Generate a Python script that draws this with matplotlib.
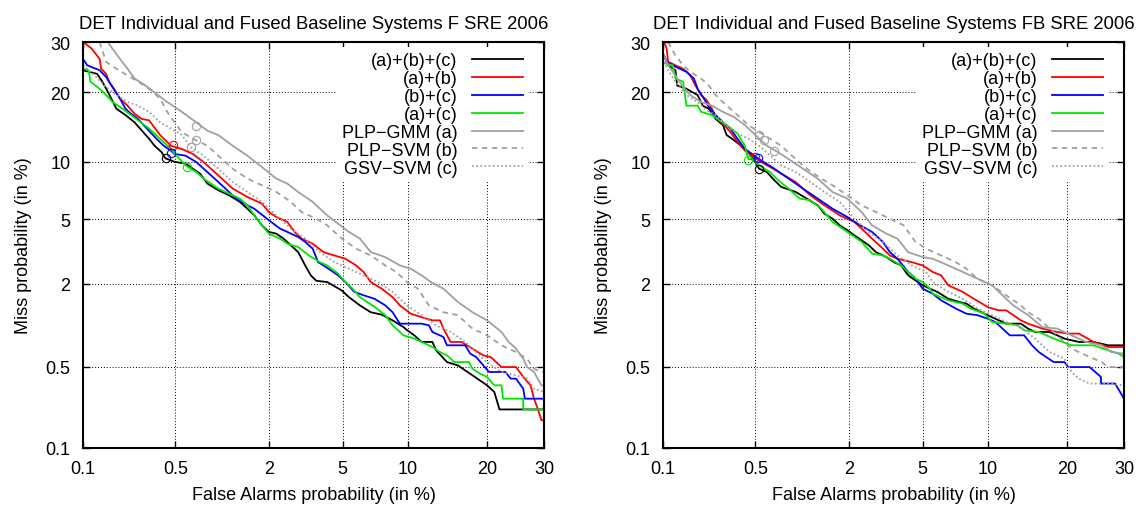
import math
import numpy as np
import matplotlib
matplotlib.use("Agg")
import matplotlib.pyplot as plt

plt.rcParams['font.family'] = ['Liberation Sans', 'DejaVu Sans']

TICKS = [0.1, 0.5, 2, 5, 10, 20, 30]
TICK_LABELS = ['0.1', '0.5', '2', '5', '10', '20', '30']
LABELS = ['(a)+(b)+(c)', '(a)+(b)', '(b)+(c)', '(a)+(c)',
          'PLP\u2212GMM (a)', 'PLP\u2212SVM (b)', 'GSV\u2212SVM (c)']
TITLES = ['DET Individual and Fused Baseline Systems F SRE 2006',
          'DET Individual and Fused Baseline Systems FB SRE 2006']

# (false alarm %, miss %) pairs
# ---- panel F ----
f_abc = [(0.10, 24.1), (0.13, 23.4), (0.143, 21.9), (0.161, 19.7), (0.184, 17.2), (0.216, 16.2),
         (0.253, 15.1), (0.287, 13.9), (0.324, 12.8), (0.355, 11.9), (0.40, 11.1), (0.424, 10.4),
         (0.493, 10.0), (0.587, 9.8), (0.658, 9.26), (0.737, 8.75), (0.824, 7.8), (0.97, 7.2),
         (1.14, 6.77), (1.33, 6.24), (1.48, 5.73), (1.63, 5.26), (1.81, 4.62), (1.99, 4.23),
         (2.2, 4.13), (2.42, 3.86), (2.66, 3.52), (2.92, 3.2), (3.19, 2.64), (3.42, 2.28),
         (3.66, 2.1), (4.17, 2.06), (4.95, 1.81), (5.37, 1.63), (6.07, 1.43), (6.83, 1.28),
         (7.67, 1.23), (8.58, 1.12), (9.57, 1.0), (9.91, 0.95), (10.63, 0.87), (11.39, 0.776),
         (12.6, 0.776), (13.03, 0.67), (14.36, 0.543), (15.77, 0.511), (17.81, 0.426),
         (20.0, 0.353), (21.15, 0.311), (22.0, 0.221), (30.0, 0.221)]
f_ab = [(0.10, 30.0), (0.117, 28.6), (0.136, 26.4), (0.14, 24.4), (0.153, 23.4), (0.161, 21.9),
        (0.172, 20.9), (0.196, 18.9), (0.224, 17.7), (0.253, 16.4), (0.287, 15.6), (0.324, 15.4),
        (0.389, 13.3), (0.465, 11.9), (0.554, 11.5), (0.658, 10.9), (0.778, 9.97), (0.97, 8.58),
        (1.2, 7.34), (1.48, 6.63), (1.81, 6.11), (1.99, 5.49), (2.2, 5.15), (2.54, 4.83),
        (2.79, 4.23), (3.05, 3.86), (3.5, 3.6), (3.99, 3.2), (4.54, 3.05), (5.16, 2.91),
        (5.82, 2.64), (6.31, 2.4), (6.83, 2.06), (7.67, 1.86), (8.58, 1.63), (9.23, 1.43),
        (10.27, 1.25), (11.39, 1.18), (12.6, 1.12), (13.5, 1.12), (13.91, 0.975), (14.82, 0.776),
        (16.27, 0.776), (17.81, 0.69), (19.44, 0.612), (20.57, 0.595), (22.33, 0.496),
        (24.82, 0.496), (26.11, 0.413), (27.44, 0.353), (28.1, 0.273), (28.8, 0.224),
        (29.5, 0.178), (30.0, 0.178)]
f_bc = [(0.10, 26.4), (0.108, 25.1), (0.136, 24.1), (0.153, 22.8), (0.172, 20.9), (0.196, 18.9),
        (0.216, 17.2), (0.238, 16.4), (0.269, 15.6), (0.305, 14.4), (0.367, 12.8), (0.413, 11.9),
        (0.465, 11.3), (0.493, 10.9), (0.587, 10.7), (0.696, 9.97), (0.778, 9.26), (0.92, 8.26),
        (1.08, 7.34), (1.26, 6.5), (1.48, 5.98), (1.63, 5.73), (1.99, 4.94), (2.31, 4.42),
        (2.54, 4.23), (2.92, 3.95), (3.19, 3.69), (3.5, 3.36), (3.74, 2.77), (3.99, 2.64),
        (4.35, 2.46), (4.74, 2.28), (5.16, 2.06), (5.7, 1.77), (6.31, 1.68), (7.1, 1.59),
        (7.96, 1.43), (8.58, 1.28), (9.23, 1.06), (11.39, 1.06), (12.2, 1.03), (12.6, 0.921),
        (13.91, 0.846), (14.36, 0.732), (16.77, 0.732), (17.5, 0.631), (18.35, 0.595),
        (19.44, 0.511), (20.3, 0.453), (23.0, 0.453), (23.9, 0.4), (24.82, 0.4), (26.11, 0.331),
        (26.4, 0.273), (30.0, 0.273)]
f_ac = [(0.10, 24.4), (0.111, 24.1), (0.115, 21.9), (0.136, 20.6), (0.153, 19.5), (0.172, 18.3),
        (0.196, 17.5), (0.238, 16.2), (0.269, 15.4), (0.324, 14.2), (0.389, 12.8), (0.465, 11.5),
        (0.523, 10.5), (0.587, 9.61), (0.696, 8.91), (0.778, 8.26), (0.87, 7.79), (0.97, 7.34),
        (1.2, 6.77), (1.33, 6.5), (1.48, 5.98), (1.63, 5.26), (1.81, 4.62), (1.99, 4.13),
        (2.31, 3.86), (2.54, 3.6), (2.92, 3.44), (3.34, 3.05), (3.82, 2.77), (4.17, 2.64),
        (4.74, 2.34), (5.16, 2.06), (5.59, 1.86), (6.07, 1.63), (6.57, 1.51), (7.1, 1.4),
        (7.96, 1.22), (8.58, 1.03), (9.57, 0.87), (10.63, 0.822), (11.39, 0.776), (12.6, 0.711),
        (13.47, 0.65), (14.36, 0.612), (15.3, 0.543), (17.3, 0.543), (17.81, 0.481),
        (18.89, 0.44), (20.0, 0.413), (21.15, 0.353), (22.33, 0.353), (22.6, 0.273),
        (26.1, 0.273), (26.1, 0.221), (30.0, 0.221)]
f_gmm = [(0.161, 29.6), (0.196, 26.4), (0.224, 24.4), (0.253, 22.5), (0.305, 21.2), (0.367, 19.7),
         (0.438, 18.3), (0.493, 17.5), (0.554, 16.7), (0.696, 15.1), (0.824, 13.9), (0.97, 13.3),
         (1.2, 11.9), (1.48, 10.7), (1.81, 9.43), (2.2, 8.26), (2.54, 7.79), (2.92, 7.05),
         (3.5, 6.24), (4.17, 5.26), (4.74, 4.72), (5.37, 4.23), (6.07, 3.86), (6.83, 3.2),
         (7.96, 2.98), (9.23, 2.64), (10.27, 2.52), (11.39, 2.28), (12.6, 2.03), (13.91, 1.86),
         (15.77, 1.51), (17.81, 1.28), (20.0, 1.12), (22.33, 0.921), (23.55, 0.776),
         (24.82, 0.69), (26.11, 0.577), (26.8, 0.496), (28.1, 0.453), (28.8, 0.4),
         (29.5, 0.353), (30.0, 0.353)]
f_plp_svm = [(0.136, 30.0), (0.153, 25.8), (0.184, 24.4), (0.224, 23.1), (0.269, 21.9),
             (0.324, 20.6), (0.389, 18.9), (0.438, 16.7), (0.493, 15.1), (0.554, 13.7),
             (0.658, 12.8), (0.824, 11.9), (0.97, 10.7), (1.2, 9.26), (1.48, 8.26), (1.81, 7.64),
             (2.2, 7.05), (2.66, 6.24), (3.05, 5.49), (3.66, 5.04), (4.17, 4.62), (4.95, 3.86),
             (5.82, 3.36), (6.83, 3.05), (7.96, 2.64), (8.9, 2.4), (9.91, 2.06), (11.0, 1.86),
             (12.2, 1.43), (13.91, 1.28), (15.77, 1.22), (17.81, 0.975), (20.0, 0.87),
             (22.33, 0.732), (24.82, 0.65), (26.8, 0.577), (28.1, 0.481), (29.5, 0.453),
             (30.0, 0.453)]
f_gsv_svm = [(0.10, 25.1), (0.124, 23.1), (0.153, 20.9), (0.184, 19.5), (0.224, 18.3),
             (0.269, 17.7), (0.324, 16.7), (0.389, 15.1), (0.465, 14.2), (0.554, 13.3),
             (0.64, 11.7), (0.778, 10.7), (0.97, 9.26), (1.2, 7.94), (1.48, 7.05), (1.81, 6.24),
             (2.2, 5.26), (2.66, 4.42), (3.19, 3.86), (3.82, 3.2), (4.54, 2.77), (5.37, 2.52),
             (6.31, 2.28), (7.38, 2.06), (8.58, 1.77), (9.91, 1.43), (11.39, 1.22), (13.03, 1.03),
             (14.82, 0.921), (16.77, 0.776), (17.81, 0.69), (20.0, 0.543), (22.33, 0.453),
             (24.82, 0.426), (26.8, 0.4), (28.1, 0.331), (30.0, 0.311)]
f_mindcf = [(0.43, 10.4), (0.48, 12.0), (0.466, 11.0), (0.60, 9.4),
            (0.69, 14.6), (0.69, 12.6), (0.64, 11.7)]

# ---- panel FB ----
fb_abc = [(0.102, 27.1), (0.11, 25.1), (0.126, 24.1), (0.13, 21.2), (0.154, 20.6), (0.188, 19.5),
          (0.206, 17.7), (0.229, 17.2), (0.258, 15.6), (0.292, 14.7), (0.311, 13.3), (0.352, 12.6),
          (0.396, 11.9), (0.446, 11.1), (0.50, 9.97), (0.53, 9.26), (0.60, 8.91), (0.675, 8.1),
          (0.75, 7.49), (0.935, 7.05), (1.10, 6.5), (1.29, 5.98), (1.42, 5.37), (1.59, 5.04),
          (1.76, 4.62), (1.95, 4.33), (2.14, 4.04), (2.36, 3.77), (2.59, 3.52), (2.84, 3.2),
          (3.24, 2.98), (3.55, 2.77), (3.88, 2.64), (4.22, 2.28), (4.6, 2.11), (5.0, 1.96),
          (5.44, 1.86), (5.9, 1.77), (6.65, 1.59), (7.47, 1.51), (8.05, 1.47), (8.68, 1.36),
          (9.67, 1.25), (10.74, 1.15), (11.9, 1.06), (13.6, 1.06), (14.5, 0.975), (15.4, 0.921),
          (17.4, 0.921), (18.5, 0.87), (19.6, 0.822), (21.9, 0.776), (24.4, 0.776),
          (27.0, 0.732), (30.0, 0.732)]
fb_ab = [(0.102, 30.0), (0.107, 28.6), (0.11, 25.8), (0.126, 25.1), (0.145, 24.4), (0.165, 23.1),
         (0.181, 21.2), (0.20, 19.5), (0.221, 18.6), (0.242, 17.2), (0.258, 15.9), (0.292, 14.9),
         (0.331, 13.7), (0.373, 12.4), (0.421, 11.3), (0.474, 10.7), (0.53, 10.1), (0.632, 9.43),
         (0.75, 8.75), (0.935, 7.94), (1.16, 6.77), (1.42, 5.98), (1.76, 5.26), (2.14, 4.83),
         (2.36, 4.42), (2.70, 3.86), (3.10, 3.36), (3.38, 3.05), (3.71, 2.91), (4.41, 2.77),
         (5.0, 2.64), (5.6, 2.4), (6.15, 2.28), (6.65, 1.96), (7.2, 1.86), (7.75, 1.77),
         (8.68, 1.59), (10.0, 1.39), (11.1, 1.32), (11.9, 1.32), (12.7, 1.22), (13.6, 1.12),
         (14.5, 1.06), (16.4, 0.975), (18.5, 0.921), (20.2, 0.896), (21.9, 0.896),
         (24.4, 0.776), (27.0, 0.711), (30.0, 0.711)]
fb_bc = [(0.102, 27.1), (0.107, 25.8), (0.126, 24.8), (0.154, 23.8), (0.176, 22.5), (0.188, 20.6),
         (0.206, 19.2), (0.229, 17.5), (0.258, 16.2), (0.292, 15.1), (0.331, 14.2), (0.373, 12.8),
         (0.421, 11.5), (0.474, 10.9), (0.53, 10.3), (0.675, 9.26), (0.84, 8.26), (1.04, 7.34),
         (1.29, 6.5), (1.59, 5.73), (1.95, 5.15), (2.23, 4.72), (2.70, 4.23), (3.10, 3.69),
         (3.38, 3.2), (3.71, 2.91), (4.22, 2.4), (4.6, 2.17), (5.0, 1.86), (5.6, 1.72),
         (6.15, 1.55), (7.2, 1.36), (8.05, 1.25), (9.0, 1.22), (10.0, 1.15), (10.74, 1.09),
         (11.5, 0.975), (12.3, 0.87), (14.0, 0.87), (15.0, 0.732), (15.9, 0.65), (16.9, 0.595),
         (18.0, 0.543), (19.6, 0.543), (20.2, 0.496), (23.7, 0.496), (25.7, 0.413),
         (25.7, 0.365), (28.3, 0.365), (30.0, 0.273)]
fb_ac = [(0.102, 25.5), (0.12, 25.1), (0.126, 22.5), (0.145, 21.9), (0.154, 17.7), (0.188, 17.7),
         (0.20, 16.7), (0.242, 16.2), (0.274, 15.4), (0.311, 14.7), (0.373, 13.5), (0.421, 11.9),
         (0.446, 10.3), (0.474, 10.3), (0.53, 9.61), (0.632, 8.91), (0.716, 8.1), (0.84, 7.34),
         (0.99, 6.5), (1.16, 6.37), (1.36, 5.73), (1.59, 4.83), (1.95, 4.23), (2.36, 3.69),
         (2.70, 3.13), (3.10, 3.05), (3.38, 2.91), (3.88, 2.64), (4.6, 2.17), (5.0, 2.06),
         (5.44, 1.86), (5.6, 1.72), (6.65, 1.55), (7.75, 1.47), (8.37, 1.36), (9.67, 1.25),
         (10.4, 1.09), (11.9, 1.06), (13.2, 1.03), (14.0, 0.948), (15.9, 0.921), (18.0, 0.822),
         (20.7, 0.732), (24.4, 0.732), (27.0, 0.67), (29.0, 0.631), (30.0, 0.595)]
fb_gmm = [(0.102, 27.1), (0.11, 25.1), (0.126, 23.1), (0.145, 20.9), (0.165, 19.5), (0.20, 18.3),
          (0.242, 17.7), (0.292, 16.7), (0.352, 15.9), (0.421, 14.7), (0.50, 13.3), (0.60, 11.9),
          (0.716, 11.1), (0.84, 10.3), (1.04, 9.26), (1.29, 8.26), (1.59, 7.05), (1.95, 6.5),
          (2.36, 5.49), (2.70, 4.62), (3.24, 4.13), (3.71, 3.86), (4.22, 3.2), (5.0, 2.98),
          (5.6, 2.91), (6.65, 2.64), (7.75, 2.4), (9.0, 2.17), (10.4, 1.96), (11.5, 1.68),
          (12.7, 1.43), (14.5, 1.22), (16.4, 1.0), (18.5, 0.975), (20.7, 0.87), (23.1, 0.776),
          (25.8, 0.732), (27.6, 0.65), (30.0, 0.631)]
fb_plp_svm = [(0.11, 30.0), (0.126, 27.1), (0.145, 25.1), (0.165, 23.8), (0.20, 22.5),
              (0.229, 21.2), (0.258, 19.5), (0.311, 17.7), (0.373, 16.2), (0.446, 14.7),
              (0.53, 13.7), (0.632, 12.8), (0.75, 11.9), (0.935, 10.3), (1.10, 9.26),
              (1.36, 8.26), (1.59, 7.64), (1.95, 6.77), (2.36, 5.98), (2.84, 5.49), (3.38, 5.04),
              (4.0, 4.62), (4.6, 3.69), (5.2, 3.36), (6.15, 3.05), (7.2, 2.77), (8.05, 2.52),
              (9.0, 2.17), (10.4, 1.96), (11.9, 1.68), (13.6, 1.43), (14.5, 1.28), (15.9, 1.15),
              (17.4, 0.975), (18.5, 0.87), (20.7, 0.69), (23.1, 0.612), (25.8, 0.543),
              (27.0, 0.496), (30.0, 0.496)]
fb_gsv_svm = [(0.102, 25.8), (0.11, 24.1), (0.126, 21.9), (0.154, 19.5), (0.188, 18.3),
              (0.229, 16.7), (0.258, 16.2), (0.311, 14.7), (0.373, 13.5), (0.446, 12.8),
              (0.53, 11.9), (0.632, 10.7), (0.75, 9.61), (0.935, 8.91), (1.16, 7.94),
              (1.42, 7.05), (1.76, 6.24), (2.14, 5.04), (2.59, 4.23), (3.10, 3.69), (3.71, 3.05),
              (4.41, 2.64), (5.2, 2.4), (5.6, 2.06), (6.65, 1.77), (7.75, 1.59), (9.0, 1.36),
              (10.4, 1.22), (11.9, 1.09), (13.6, 1.0), (15.4, 0.822), (17.4, 0.65), (19.6, 0.577),
              (20.7, 0.453), (21.9, 0.4), (23.7, 0.365), (27.0, 0.365), (30.0, 0.353)]
fb_mindcf = [(0.53, 9.26), (0.50, 10.5), (0.52, 10.4), (0.446, 10.2),
             (0.53, 13.3), (0.57, 12.6), (0.67, 11.3)]

PANELS = [
    (TITLES[0], [f_abc, f_ab, f_bc, f_ac, f_gmm, f_plp_svm, f_gsv_svm], f_mindcf),
    (TITLES[1], [fb_abc, fb_ab, fb_bc, fb_ac, fb_gmm, fb_plp_svm, fb_gsv_svm], fb_mindcf),
]

STYLES = [
    dict(color='black', linestyle='-'),
    dict(color='#ff0000', linestyle='-'),
    dict(color='#0000ff', linestyle='-'),
    dict(color='#00e600', linestyle='-'),
    dict(color='#a0a0a0', linestyle='-'),
    dict(color='#a0a0a0', linestyle=(0, (3, 2.5))),
    dict(color='#a0a0a0', linestyle=(0, (1, 1.3))),
]

# normal deviate (DET) scale, percent <-> probit
_U = np.linspace(-6, 6, 12001)
_P = 50.0 * (1.0 + np.array([math.erf(v / math.sqrt(2.0)) for v in _U]))


def to_dev(p):
    return np.interp(p, _P, _U)


def from_dev(u):
    return np.interp(u, _U, _P)


def draw_panel(ax, title, curves, mindcf):
    for pts, lab, st in zip(curves, LABELS, STYLES):
        fa, miss = np.array(pts).T
        ax.plot(fa, miss, lw=1.3, label=lab, **st)
    for (fa, miss), st in zip(mindcf, STYLES):
        ax.plot([fa], [miss], 'o', mfc='none', mec=st['color'], ms=6, mew=0.8)

    ax.set_xscale('function', functions=(to_dev, from_dev))
    ax.set_yscale('function', functions=(to_dev, from_dev))
    ax.set_xlim(0.1, 30)
    ax.set_ylim(0.1, 30)
    ax.set_xticks(TICKS, TICK_LABELS)
    ax.set_yticks(TICKS, TICK_LABELS)
    ax.minorticks_off()
    ax.tick_params(direction='in', length=5, width=1, top=True, right=True,
                   labelsize=13, pad=9)
    ax.grid(True, color='black', linestyle=(0, (1, 2)), linewidth=0.7)
    for sp in ax.spines.values():
        sp.set_linewidth(1.5)

    ax.set_title(title, fontsize=13.3, pad=10)
    ax.set_xlabel('False Alarms probability (in %)', fontsize=13, labelpad=6)
    ax.set_ylabel('Miss probability (in %)', fontsize=13, labelpad=10)

    leg = ax.legend(loc='upper right', bbox_to_anchor=(0.966, 0.988), markerfirst=False,
                    frameon=True, fancybox=False, edgecolor='none', facecolor='white',
                    framealpha=1, borderpad=0.3, borderaxespad=0, handlelength=2.83,
                    handletextpad=0.78, labelspacing=0.05, fontsize=13)
    leg.set_zorder(5)


fig = plt.figure(figsize=(11.4, 5.1), dpi=100)
lefts = [83 / 1140, 663 / 1140]
for left, (title, curves, mindcf) in zip(lefts, PANELS):
    ax = fig.add_axes([left, 61 / 510, 461 / 1140, 406 / 510])
    draw_panel(ax, title, curves, mindcf)

fig.savefig('out.png', dpi=100)
